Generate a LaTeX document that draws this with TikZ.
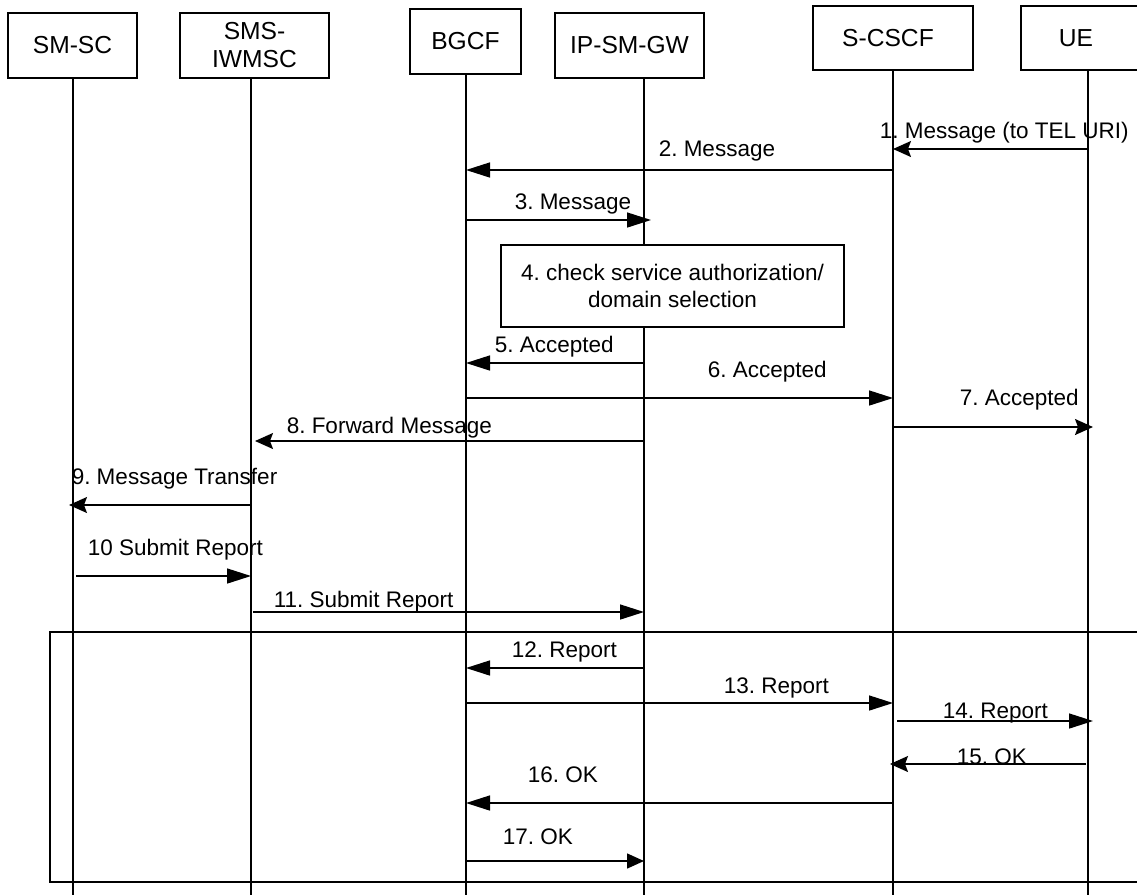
\documentclass[tikz,border=0pt]{standalone}
\usepackage{fontspec}
\setmainfont{Liberation Sans}
\usetikzlibrary{arrows.meta,calc}
\frenchspacing
\begin{document}
\begin{tikzpicture}[x=1pt,y=-1pt,line width=1.5pt,
  hdr/.style={draw,line width=1.5pt,inner sep=0pt,align=center,
    font=\fontsize{24.6}{28}\selectfont},
  msg/.style={anchor=base west,inner sep=0pt,font=\fontsize{22.5}{27}\selectfont},
  big/.style={-{Triangle[length=24pt,width=15pt]}},
  mid/.style={-{Triangle[length=17pt,width=15pt]}},
  small/.style={-{Stealth[length=18pt,width=16pt,inset=3pt]}},
]
\useasboundingbox (0,0) rectangle (1137,895);

% lifeline positions
\coordinate (xA) at (73,0);
\coordinate (xB) at (251,0);
\coordinate (xC) at (466,0);
\coordinate (xD) at (644,0);
\coordinate (xE) at (893,0);
\coordinate (xF) at (1088,0);

% participants
\node[hdr,minimum width=129pt,minimum height=65pt] (smsc) at (72.5,45.5) {SM-SC};
\node[hdr,minimum width=149pt,minimum height=65pt] (iwmsc) at (254.5,45.5) {SMS-\\IWMSC};
\node[hdr,minimum width=111pt,minimum height=65pt] (bgcf) at (465.5,41.5) {BGCF};
\node[hdr,minimum width=149pt,minimum height=65pt] (ipsm) at (629.5,45.5) {IP-SM-GW};
\node[hdr,minimum width=160pt,minimum height=64pt] (scscf) at (893,38) {\hspace*{-10pt}S-CSCF};
\node[hdr,minimum width=130pt,minimum height=64pt] (ue) at (1086,38) {\hspace*{-20pt}UE};

% lifelines
\draw (xA |- smsc.south) -- (xA |- 0,895);
\draw (xB |- iwmsc.south) -- (xB |- 0,895);
\draw (xC |- bgcf.south) -- (xC |- 0,895);
\draw (xD |- ipsm.south) -- (xD |- 0,895);
\draw (xE |- scscf.south) -- (xE |- 0,895);
\draw (xF |- ue.south) -- (xF |- 0,895);

% report phase frame
\draw (50,632) rectangle (1150,882);

% messages
\draw[small] (xF |- 0,149) -- (xE |- 0,149);
\node[msg] (m1) at (879,138) {1. Message (to TEL URI)};

\draw[big] (xE |- 0,170) -- (xC |- 0,170);
\node[msg] (m2) at (658,156) {2. Message};

\draw[big] (xC |- 0,220) -- ($(xD |- 0,220)+(7,0)$);
\node[msg] (m3) at (514,209) {3. Message};

\node[draw,fill=white,line width=1.5pt,minimum width=343pt,minimum height=82pt,
  align=center,inner sep=0pt,font=\fontsize{22.5}{27}\selectfont] (chk) at (672.5,286)
  {4. check service authorization/\\domain selection};

\draw[big] (xD |- 0,363) -- (xC |- 0,363);
\node[msg] (m5) at (494,352) {5. Accepted};

\draw[big] (xC |- 0,398) -- (xE |- 0,398);
\node[msg] (m6) at (707,377) {6. Accepted};

\draw[small] (xE |- 0,427) -- ($(xF |- 0,427)+(5,0)$);
\node[msg] (m7) at (959,405) {7. Accepted};

\draw[small] (xD |- 0,441) -- ($(xB |- 0,441)+(4,0)$);
\node[msg] (m8) at (286,433) {8. Forward Message};

\draw[small] (xB |- 0,505) -- ($(xA |- 0,505)+(-4,0)$);
\node[msg] (m9) at (71,484) {9. Message Transfer};

\draw[big] ($(xA |- 0,576)+(3,0)$) -- (xB |- 0,576);
\node[msg] (m10) at (87,555) {10 Submit Report};

\draw[big] ($(xB |- 0,612)+(2,0)$) -- (xD |- 0,612);
\node[msg] (m11) at (273,607) {11. Submit Report};

\draw[big] (xD |- 0,668) -- (xC |- 0,668);
\node[msg] (m12) at (511,657) {12. Report};

\draw[big] (xC |- 0,703) -- (xE |- 0,703);
\node[msg] (m13) at (723,693) {13. Report};

\draw[big] ($(xE |- 0,721)+(4,0)$) -- ($(xF |- 0,721)+(5,0)$);
\node[msg] (m14) at (942,718) {14. Report};

\draw[small] ($(xF |- 0,764)+(-2,0)$) -- ($(xE |- 0,764)+(-3,0)$);
\node[msg] (m15) at (956,764) {15. OK};

\draw[big] (xE |- 0,803) -- (xC |- 0,803);
\node[msg] (m16) at (527,782) {16. OK};

\draw[mid] (xC |- 0,861) -- (xD |- 0,861);
\node[msg] (m17) at (502,844) {17. OK};
\end{tikzpicture}
\end{document}
